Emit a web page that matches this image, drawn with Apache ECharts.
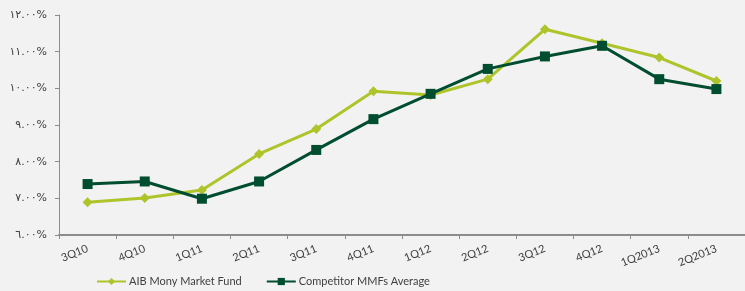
<!DOCTYPE html>
<html lang="en">
<head>
    <meta charset="UTF-8">
    <title>AIB MMF</title>
    <script src="https://cdn.jsdelivr.net/npm/echarts@6/dist/echarts.min.js"></script>
    <style>
        html, body { margin: 0; padding: 0; background: #f2f2f2; }
        #chart { width: 745px; height: 291px; }
    </style>
</head>
<body>
<div id="chart"></div>
<script>
    // quarters
    var quarters = ['3Q10', '4Q10', '1Q11', '2Q11', '3Q11', '4Q11', '1Q12', '2Q12', '3Q12', '4Q12', '1Q2013', '2Q2013'];
    // AIB fund (%)
    var aibFund = [6.89, 7.01, 7.23, 8.21, 8.89, 9.92, 9.82, 10.25, 11.61, 11.23, 10.84, 10.20];
    // competitor average (%)
    var competitorAvg = [7.39, 7.46, 6.99, 7.46, 8.32, 9.16, 9.85, 10.53, 10.87, 11.16, 10.25, 9.98];
    // y tick labels, 6% .. 12%
    var yTickLabels = ['٦.٠٠%', '٧.٠٠%', '٨.٠٠%', '٩.٠٠%', '١٠.٠٠%', '١١.٠٠%', '١٢.٠٠%'];

    var chart = echarts.init(document.getElementById('chart'));
    var font = 'Lato, "DejaVu Sans", sans-serif';

    chart.setOption({
        backgroundColor: '#f2f2f2',
        animation: false,
        textStyle: { fontFamily: font },
        grid: { left: 59, top: 15, width: 690, height: 220, containLabel: false },
        legend: {
            top: 276,
            left: 91,
            padding: [0, 5],
            itemWidth: 29,
            itemHeight: 9,
            itemGap: 24,
            textStyle: { fontSize: 11, color: '#404040', fontFamily: font, padding: [0, 0, 0, -2] },
            data: ['AIB Mony Market Fund', 'Competitor MMFs Average']
        },
        xAxis: {
            type: 'category',
            data: quarters,
            boundaryGap: true,
            axisLine: { lineStyle: { color: '#8c8c8c', width: 2 } },
            axisTick: { show: true, interval: 0, length: 4, lineStyle: { color: '#8c8c8c' } },
            axisLabel: { interval: 0, rotate: 22, fontSize: 11, color: '#404040', margin: 13 }
        },
        yAxis: {
            type: 'value',
            min: 6,
            max: 12,
            interval: 1,
            splitLine: { show: false },
            axisLine: { show: true, lineStyle: { color: '#8c8c8c' } },
            axisTick: { show: true, length: 4, lineStyle: { color: '#8c8c8c' } },
            axisLabel: {
                fontSize: 11,
                color: '#404040',
                margin: 12,
                fontFamily: '"DejaVu Sans", sans-serif',
                formatter: function (v) { return yTickLabels[Math.round(v - 6)]; }
            }
        },
        series: [
            {
                name: 'AIB Mony Market Fund',
                type: 'line',
                data: aibFund,
                symbol: 'diamond',
                symbolSize: 10,
                lineStyle: { color: '#afc42a', width: 3 },
                itemStyle: { color: '#afc42a' }
            },
            {
                name: 'Competitor MMFs Average',
                type: 'line',
                data: competitorAvg,
                symbol: 'rect',
                symbolSize: 10,
                lineStyle: { color: '#004d30', width: 3 },
                itemStyle: { color: '#004d30' }
            }
        ]
    });
</script>
</body>
</html>
